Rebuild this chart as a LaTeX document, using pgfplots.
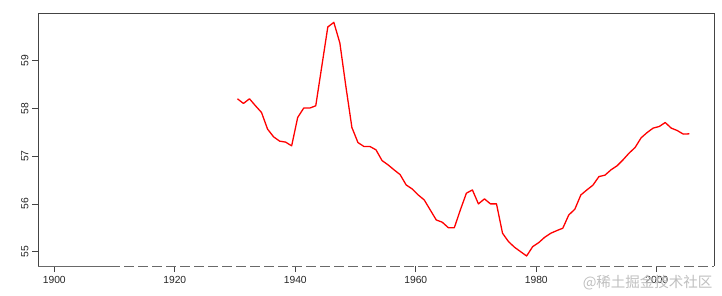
\documentclass[border=0pt]{standalone}
\usepackage{pgfplots}
\pgfplotsset{compat=1.18}
\usepackage{fontspec}
\setmainfont{Liberation Sans}
\newfontfamily\cjk{Noto Sans CJK SC}
\definecolor{boxgray}{HTML}{444444}
\begin{document}
\begin{tikzpicture}
\useasboundingbox (-38pt,-29pt) rectangle (684pt,266pt);
\begin{axis}[
  scale only axis,
  width=676pt, height=253pt,
  xmin=1897.3, xmax=2009.5,
  ymin=54.70, ymax=60.0,
  xtick={1900,1920,1940,1960,1980,2000},
  ytick={55,56,57,58,59},
  axis line style={draw=none},
  tick align=outside,
  tick pos=left,
  major tick length=6pt,
  tick style={boxgray, line width=0.7pt},
  /pgf/number format/assume math mode=true,
  /pgf/number format/1000 sep={},
  ticklabel style={font=\fontsize{10.3}{12}\selectfont, text=black!85},
  yticklabel style={rotate=90, anchor=south, xshift=0pt},
  xticklabel style={yshift=-1pt},
  clip=false,
]
\addplot[color=red, line width=1.3pt, line join=round] coordinates {
(1930.4,58.203) (1931.4,58.105) (1932.4,58.203) (1933.4,58.056) (1934.4,57.916)
(1935.4,57.568) (1936.4,57.406) (1937.4,57.316) (1938.4,57.295) (1939.4,57.217)
(1940.4,57.811) (1941.4,58.008) (1942.4,58.008) (1943.4,58.056) (1944.4,58.881)
(1945.4,59.707) (1946.4,59.804) (1947.4,59.372) (1948.4,58.461) (1949.4,57.601)
(1950.4,57.287) (1951.4,57.203) (1952.4,57.203) (1953.4,57.133) (1954.4,56.909)
(1955.4,56.819) (1956.4,56.714) (1957.4,56.615) (1958.4,56.399) (1959.4,56.315)
(1960.4,56.189) (1961.4,56.085) (1962.4,55.875) (1963.4,55.665) (1964.4,55.617)
(1965.4,55.503) (1966.4,55.503) (1967.4,55.875) (1968.4,56.225) (1969.4,56.294)
(1970.4,56.001) (1971.4,56.106) (1972.4,56.001) (1973.4,56.001) (1974.4,55.386)
(1975.4,55.210) (1976.4,55.092) (1977.4,55.000) (1978.4,54.910) (1979.4,55.105)
(1980.4,55.189) (1981.4,55.302) (1982.4,55.386) (1983.4,55.441) (1984.4,55.491)
(1985.4,55.770) (1986.4,55.889) (1987.4,56.189) (1988.4,56.294) (1989.4,56.393)
(1990.4,56.573) (1991.4,56.603) (1992.4,56.714) (1993.4,56.798) (1994.4,56.924)
(1995.4,57.064) (1996.4,57.182) (1997.4,57.385) (1998.4,57.496) (1999.4,57.589)
(2000.4,57.622) (2001.4,57.706) (2002.4,57.589) (2003.4,57.538) (2004.4,57.463)
(2005.4,57.469)
};
\draw[boxgray, line width=0.8pt] (rel axis cs:0,0) -- (rel axis cs:0,1) -- (rel axis cs:1,1) -- (rel axis cs:1,0);
\draw[boxgray!80, line width=0.8pt] (rel axis cs:0,0) -- (rel axis cs:0.107,0);
\draw[boxgray!80, line width=0.8pt, dash pattern=on 10pt off 4pt] (rel axis cs:0.107,0) -- (rel axis cs:1,0);
\end{axis}
\node[anchor=east, text=black!25, font=\cjk\fontsize{14.5}{16}\selectfont] at (678pt,-17pt) {@稀土掘金技术社区};
\end{tikzpicture}
\end{document}
